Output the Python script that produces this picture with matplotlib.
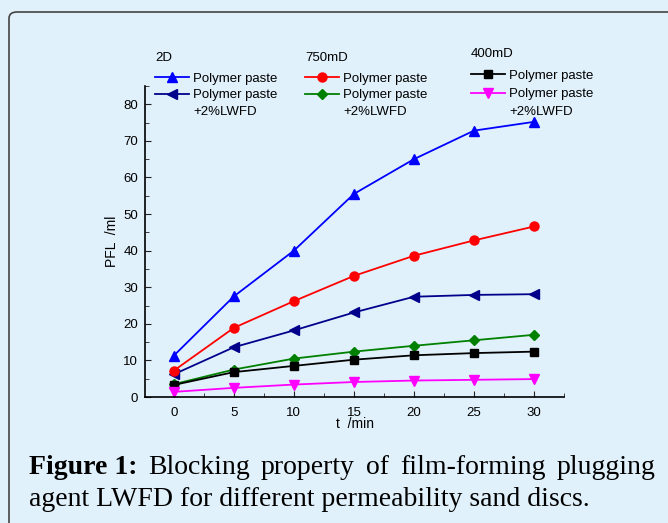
import matplotlib
matplotlib.use("Agg")
import matplotlib.pyplot as plt
from matplotlib.patches import FancyBboxPatch
from matplotlib.lines import Line2D
from matplotlib.ticker import MultipleLocator

t = [0, 5, 10, 15, 20, 25, 30]
pfl_2d = [11.3, 27.5, 40.0, 55.5, 65.0, 72.8, 75.2]
pfl_2d_lwfd = [6.2, 13.6, 18.2, 23.1, 27.4, 27.9, 28.1]
pfl_750 = [7.2, 18.9, 26.2, 33.1, 38.6, 42.8, 46.6]
pfl_750_lwfd = [3.5, 7.5, 10.5, 12.4, 14.0, 15.5, 17.0]
pfl_400 = [3.3, 6.8, 8.5, 10.2, 11.4, 12.0, 12.4]
pfl_400_lwfd = [1.4, 2.5, 3.4, 4.1, 4.5, 4.7, 4.9]

lab1 = "Polymer paste"
lab2 = "Polymer paste"
lab2b = "+2%LWFD"

bg = "#e1f1fb"
plt.rcParams['font.family'] = ['Liberation Sans', 'DejaVu Sans']

fig = plt.figure(figsize=(6.68, 5.23), dpi=100)
fig.patch.set_facecolor(bg)
box = FancyBboxPatch((9/668, -0.2), 1.2, (1 - 12/523) + 0.2,
                     boxstyle="round,pad=0,rounding_size=0.012",
                     transform=fig.transFigure, facecolor=bg,
                     edgecolor="#444444", linewidth=1.2, zorder=-5)
fig.patches.append(box)

ax = fig.add_axes([145/668, 1 - 397/523, (564 - 145)/668, (397 - 86)/523])
ax.set_facecolor("none")

kw = dict(linewidth=1.3, markersize=6.5)
l1, = ax.plot(t, pfl_2d, color="#0000ff", marker="^", **kw)
l2, = ax.plot(t, pfl_2d_lwfd, color="#00008b", marker="<", **kw)
l3, = ax.plot(t, pfl_750, color="#ff0000", marker="o", **kw)
l4, = ax.plot(t, pfl_750_lwfd, color="#008000", marker="D", linewidth=1.3, markersize=5.5)
l5, = ax.plot(t, pfl_400, color="#000000", marker="s", linewidth=1.3, markersize=5.5)
l6, = ax.plot(t, pfl_400_lwfd, color="#ff00ff", marker="v", **kw)
blank = Line2D([], [], linestyle="none")

ax.set_xlim(-2.4, 32.5)
ax.set_ylim(0, 85)
ax.xaxis.set_major_locator(MultipleLocator(5))
ax.xaxis.set_minor_locator(MultipleLocator(2.5))
ax.yaxis.set_major_locator(MultipleLocator(10))
ax.yaxis.set_minor_locator(MultipleLocator(5))
ax.tick_params(which="both", direction="in", labelsize=9.5, color="#222222")
ax.tick_params(which="major", length=4)
ax.tick_params(which="minor", length=3)
ax.tick_params(axis="x", pad=7)
ax.tick_params(axis="y", pad=5)
for s in ["top", "right"]:
    ax.spines[s].set_visible(False)
for s in ["left", "bottom"]:
    ax.spines[s].set_linewidth(1.2)
ax.set_xlabel("t  /min", fontsize=10, labelpad=-1)
ax.set_ylabel("PFL  /ml", fontsize=10, labelpad=3)

lkw = dict(frameon=False, fontsize=9.5, title_fontsize=9.5, alignment="left",
           handlelength=2.6, handletextpad=0.3,
           borderpad=0, borderaxespad=0, loc="upper left")
leg1 = fig.legend([l1, l2, blank], [lab1, lab2, lab2b], title="2D", labelspacing=0.33,
                  bbox_to_anchor=(155/668, 1 - 52/523), **lkw)
leg2 = fig.legend([l3, l4, blank], [lab1, lab2, lab2b], title="750mD", labelspacing=0.33,
                  bbox_to_anchor=(305/668, 1 - 52/523), **lkw)
leg3 = fig.legend([l5, l6, blank], [lab1, lab2, lab2b], title="400mD", labelspacing=0.45,
                  bbox_to_anchor=(471/668, 1 - 48/523), **lkw)
for lg in (leg1, leg2, leg3):
    lg.get_title().set_y(0)
leg1._legend_box.sep = 6
leg2._legend_box.sep = 6
leg3._legend_box.sep = 7

# caption, first line justified word by word
fig.canvas.draw()
r = fig.canvas.get_renderer()
cap_font = ['Liberation Serif', 'DejaVu Serif']
words = [("Figure 1:", "bold"), ("Blocking", "normal"), ("property", "normal"),
         ("of", "normal"), ("film-forming", "normal"), ("plugging", "normal")]
x0, x1 = 29, 655
y_line1 = 1 - 474/523
texts = []
for w, fw in words:
    tx = fig.text(0, y_line1, w, fontsize=20, fontweight=fw, family=cap_font,
                  ha="left", va="baseline")
    texts.append(tx)
widths = [tx.get_window_extent(r).width for tx in texts]
gap = (x1 - x0 - sum(widths)) / (len(words) - 1)
xp = x0
for tx, wd in zip(texts, widths):
    tx.set_x(xp / 668)
    xp += wd + gap
fig.text(x0/668, 1 - 506/523, "agent LWFD for different permeability sand discs.",
         fontsize=20, family=cap_font, ha="left", va="baseline")

fig.savefig("out.png", dpi=100, facecolor=bg)
